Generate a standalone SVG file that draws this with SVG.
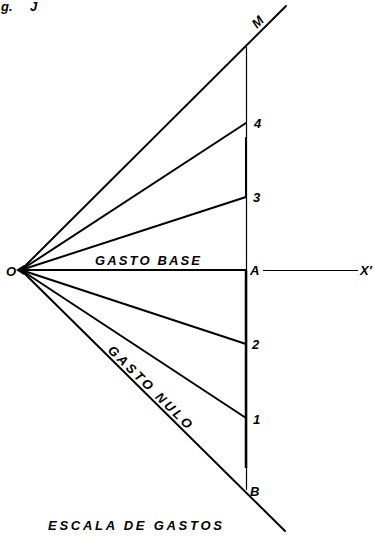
<svg xmlns="http://www.w3.org/2000/svg" width="374" height="537" viewBox="0 0 374 537">
<style>
.ray{stroke:#000;stroke-width:2;stroke-linecap:round;fill:none}
.thin{stroke:#000;stroke-width:1.2;fill:none}
.thick{stroke:#000;stroke-width:2.5;fill:none}
.lbl{font-family:"Liberation Sans",Arial,sans-serif;font-style:italic;font-weight:bold;font-size:13px;fill:#000}
</style>
<rect width="374" height="537" fill="#fff"/>
<g id="connectors">
<line class="ray" x1="21" y1="270" x2="286" y2="6"/>
<line class="ray" x1="21" y1="270" x2="246" y2="123"/>
<line class="ray" x1="21" y1="270" x2="246" y2="197"/>
<line class="ray" x1="21" y1="270" x2="246" y2="270"/>
<line class="ray" x1="21" y1="270" x2="246" y2="344"/>
<line class="ray" x1="21" y1="270" x2="246" y2="418"/>
<line class="ray" x1="21" y1="270" x2="285" y2="531"/>
<line class="thin" x1="246.5" y1="47" x2="246.5" y2="490"/>
<line class="ray" x1="246" y1="138" x2="246" y2="197"/>
<line class="thick" x1="246" y1="270" x2="246" y2="468"/>
<line class="thin" x1="263" y1="270.5" x2="358" y2="270.5"/>
<polygon points="16,270 24,265 26,270 24,275" fill="#000"/>
</g>
<g id="fig"><text class="lbl" x="1" y="11" font-size="10">g.<tspan x="30">J</tspan></text></g>
<g id="O"><text class="lbl" x="6" y="276">O</text></g>
<g id="M"><text class="lbl" transform="translate(257,29) rotate(-45)">M</text></g>
<g id="n4"><text class="lbl" x="254" y="128">4</text></g>
<g id="n3"><text class="lbl" x="253" y="202">3</text></g>
<g id="A"><text class="lbl" x="250" y="275">A</text></g>
<g id="X"><text class="lbl" x="360" y="275">X'</text></g>
<g id="n2"><text class="lbl" x="252" y="349">2</text></g>
<g id="n1"><text class="lbl" x="253" y="424">1</text></g>
<g id="B"><text class="lbl" x="250" y="496">B</text></g>
<g id="gastobase"><text class="lbl" x="95" y="265" textLength="105" lengthAdjust="spacing">GASTO  BASE</text></g>
<g id="gastonulo"><text class="lbl" transform="translate(107,351) rotate(44.5)" textLength="112" lengthAdjust="spacing">GASTO  NULO</text></g>
<g id="escala"><text class="lbl" x="48" y="530" textLength="174" lengthAdjust="spacing">ESCALA  DE  GASTOS</text></g>
</svg>
